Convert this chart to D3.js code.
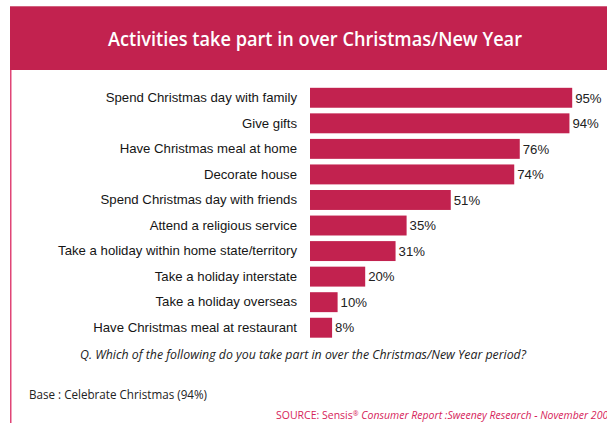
<!DOCTYPE html>
<html>
<head>
<meta charset="utf-8">
<script src="https://cdn.jsdelivr.net/npm/d3@7"></script>
<style>
  html, body { margin: 0; padding: 0; background: #fff; }
  svg { display: block; }
</style>
</head>
<body>
<script>
// Activities people take part in over Christmas / New Year (% of respondents)
const categories = [
  "Spend Christmas day with family",
  "Give gifts",
  "Have Christmas meal at home",
  "Decorate house",
  "Spend Christmas day with friends",
  "Attend a religious service",
  "Take a holiday within home state/territory",
  "Take a holiday interstate",
  "Take a holiday overseas",
  "Have Christmas meal at restaurant"
];
const values = [95, 94, 76, 74, 51, 35, 31, 20, 10, 8];
const valueLabels = values.map(v => v + "%");

const titleText = "Activities take part in over Christmas/New Year";
const questionText = "Q. Which of the following do you take part in over the Christmas/New Year period?";
const baseText = "Base : Celebrate Christmas (94%)";
const sourceLead = "SOURCE: Sensis";
const sourceRest = " Consumer Report :Sweeney Research - November 2008";

const W = 607, H = 423;
const crimson = "#c2224f";
const humanist = "'Open Sans', 'Noto Sans', sans-serif";

const svg = d3.select("body").append("svg")
  .attr("width", W).attr("height", H);

// Header band
svg.append("rect").attr("x", 10).attr("y", 6).attr("width", W - 10).attr("height", 64)
  .attr("fill", crimson);
svg.append("rect").attr("x", 10).attr("y", 6).attr("width", W - 10).attr("height", 1)
  .attr("fill", "#d2627f");
svg.append("text")
  .attr("x", 315).attr("y", 45.5)
  .attr("text-anchor", "middle")
  .attr("fill", "#fff")
  .attr("font-family", humanist)
  .attr("font-weight", 600)
  .attr("font-size", 20)
  .attr("textLength", 414).attr("lengthAdjust", "spacingAndGlyphs")
  .text(titleText);

// Left frame line
svg.append("rect").attr("x", 10).attr("y", 70).attr("width", 1.5).attr("height", H - 70)
  .attr("fill", "#e04577");

// Scales
const x = d3.scaleLinear().domain([0, 100]).range([310, 586]);
const y = d3.scaleBand().domain(categories).range([85, 340.5]).paddingInner(0.22).paddingOuter(0.11);

const g = svg.append("g");

g.selectAll("rect.bar").data(values).join("rect")
  .attr("class", "bar")
  .attr("x", x(0))
  .attr("y", (d, i) => y(categories[i]))
  .attr("width", d => x(d) - x(0))
  .attr("height", y.bandwidth())
  .attr("fill", crimson);

// Category axis (no line / ticks)
const axis = g.append("g")
  .attr("transform", `translate(${x(0) - 1},0)`)
  .call(d3.axisLeft(y).tickSize(0).tickPadding(12));
axis.select(".domain").remove();
axis.selectAll("text")
  .attr("font-family", "'Liberation Sans', Arial, sans-serif")
  .attr("font-size", 13.2)
  .attr("fill", "#151515");

// Value labels
g.selectAll("text.val").data(values).join("text")
  .attr("class", "val")
  .attr("x", d => x(d) + 3)
  .attr("y", (d, i) => y(categories[i]) + y.bandwidth() / 2)
  .attr("dy", "0.36em")
  .attr("font-family", "'Liberation Sans', Arial, sans-serif")
  .attr("font-size", 13.2)
  .attr("fill", "#222")
  .text((d, i) => valueLabels[i]);

// Question
svg.append("text")
  .attr("x", 80).attr("y", 359)
  .attr("font-family", humanist)
  .attr("font-style", "italic")
  .attr("font-size", 12)
  .attr("fill", "#222")
  .attr("textLength", 446).attr("lengthAdjust", "spacingAndGlyphs")
  .text(questionText);

// Base note
svg.append("text")
  .attr("x", 29).attr("y", 399)
  .attr("font-family", humanist)
  .attr("font-size", 12.5)
  .attr("fill", "#222")
  .attr("textLength", 178).attr("lengthAdjust", "spacingAndGlyphs")
  .text(baseText);

// Source line (runs off the right edge)
const src = svg.append("text")
  .attr("x", 276).attr("y", 419)
  .attr("font-family", humanist)
  .attr("font-size", 10.5)
  .attr("fill", "#d6245a");
src.append("tspan").text(sourceLead);
src.append("tspan").attr("font-size", 7).attr("dy", -3).text("®");
src.append("tspan").attr("dy", 3).attr("font-style", "italic").text(sourceRest);
</script>
</body>
</html>
